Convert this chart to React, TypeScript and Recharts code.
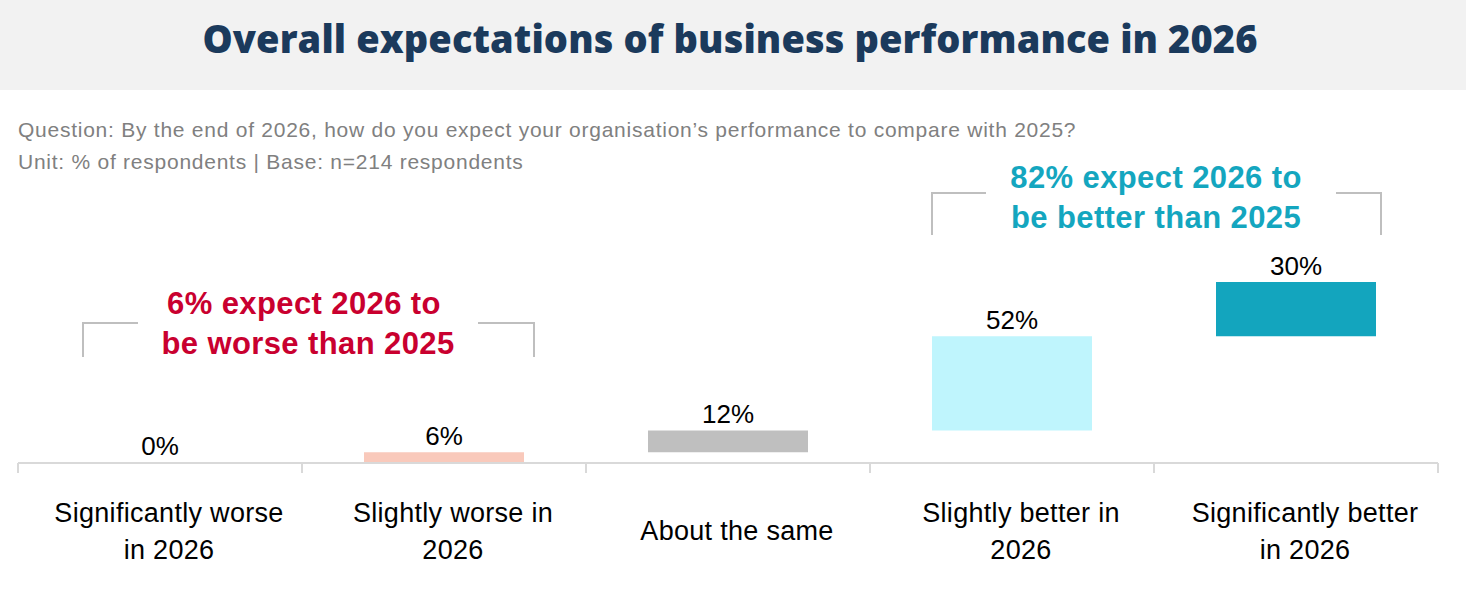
import React from 'react';
import { BarChart, Bar, XAxis, YAxis, Cell, LabelList } from 'recharts';

const categories = [
  ['Significantly worse', 'in 2026'],
  ['Slightly worse in', '2026'],
  ['About the same'],
  ['Slightly better in', '2026'],
  ['Significantly better', 'in 2026'],
];
const values = [0, 6, 12, 52, 30];
const bases = [0, 0, 6, 18, 70];
const colors = ['#d9d9d9', '#f9c9bb', '#bfbfbf', '#bff5fd', '#13a5be'];

const data = categories.map((lines, i) => ({
  name: lines.join(' '),
  lines,
  base: bases[i],
  value: values[i],
}));

const W = 1466;
const H = 614;
const AXIS_Y = 463;
const margin = { top: 282, right: 28, bottom: 0, left: 18 };
const band = (W - margin.left - margin.right) / categories.length;

const labelFont = '"Liberation Sans", Arial, sans-serif';

const CategoryTick = (props: any) => {
  const { x, index } = props;
  const lines: string[] = data[index].lines;
  const y = AXIS_Y;
  const first = lines.length === 1 ? 77 : 59;
  const tx = x + 9;
  return (
    <g>
      <line x1={x - band / 2} x2={x - band / 2} y1={y} y2={y + 10} stroke="#d9d9d9" strokeWidth={2} />
      {index === data.length - 1 && (
        <line x1={x + band / 2} x2={x + band / 2} y1={y} y2={y + 10} stroke="#d9d9d9" strokeWidth={2} />
      )}
      <text x={tx} y={y} textAnchor="middle" fontSize={27} letterSpacing={0.3} fill="#000" fontFamily={labelFont}>
        {lines.map((l, i) => (
          <tspan key={i} x={tx} dy={i === 0 ? first : 37}>{l}</tspan>
        ))}
      </text>
    </g>
  );
};

const Bracket = ({ x1, x2, y1, y2, gapL, gapR }: any) => (
  <g stroke="#bfbfbf" strokeWidth={2} fill="none">
    <polyline points={`${x1},${y2} ${x1},${y1} ${gapL},${y1}`} />
    <polyline points={`${gapR},${y1} ${x2},${y1} ${x2},${y2}`} />
  </g>
);

export default function App() {
  return (
    <div style={{ position: 'absolute', top: 0, left: 0, width: W, height: H, background: '#fff', overflow: 'hidden' }}>
      <div
        style={{
          position: 'absolute', top: 0, left: 0, width: W, height: 90, background: '#f2f2f2',
          boxSizing: 'border-box', paddingTop: 12, paddingRight: 6, textAlign: 'center', lineHeight: '52px',
          fontFamily: '"Open Sans", sans-serif', fontWeight: 800, fontSize: 38, letterSpacing: 0.1, color: '#1b3a5c',
        }}
      >
        Overall expectations of business performance in 2026
      </div>
      <div style={{ position: 'absolute', top: 114, left: 18, fontFamily: labelFont, fontSize: 21, letterSpacing: 0.75, color: '#808080', lineHeight: '32px' }}>
        <div>Question: By the end of 2026, how do you expect your organisation’s performance to compare with 2025?</div>
        <div>Unit: % of respondents | Base: n=214 respondents</div>
      </div>
      <div style={{ position: 'absolute', top: 0, left: 0 }}>
        <BarChart width={W} height={H} data={data} margin={margin} barSize={160}>
          <XAxis
            dataKey="name"
            height={H - AXIS_Y}
            axisLine={{ stroke: '#d9d9d9', strokeWidth: 2 }}
            tickLine={false}
            interval={0}
            tick={<CategoryTick />}
          />
          <YAxis hide domain={[0, 100]} />
          <Bar dataKey="base" stackId="a" fill="transparent" isAnimationActive={false} />
          <Bar dataKey="value" stackId="a" minPointSize={1} isAnimationActive={false}>
            {data.map((d, i) => (
              <Cell key={i} fill={colors[i]} />
            ))}
            <LabelList
              dataKey="value"
              position="top"
              offset={7}
              formatter={(v: any) => `${v}%`}
              style={{ fontSize: 26, fill: '#000', fontFamily: labelFont }}
            />
          </Bar>
        </BarChart>
      </div>
      <svg style={{ position: 'absolute', top: 0, left: 0 }} width={W} height={H}>
        <Bracket x1={83} x2={534} y1={323} y2={357} gapL={138} gapR={478} />
        <Bracket x1={932} x2={1381} y1={193} y2={235} gapL={986} gapR={1336} />
        <g fontFamily={labelFont} fontWeight={700} fontSize={31} letterSpacing={0.4} textAnchor="middle">
          <text x={304} y={314} fill="#c9002f">6% expect 2026 to</text>
          <text x={308} y={354} fill="#c9002f">be worse than 2025</text>
          <text x={1156} y={188} fill="#14a6bf">82% expect 2026 to</text>
          <text x={1156} y={228} fill="#14a6bf">be better than 2025</text>
        </g>
      </svg>
    </div>
  );
}
